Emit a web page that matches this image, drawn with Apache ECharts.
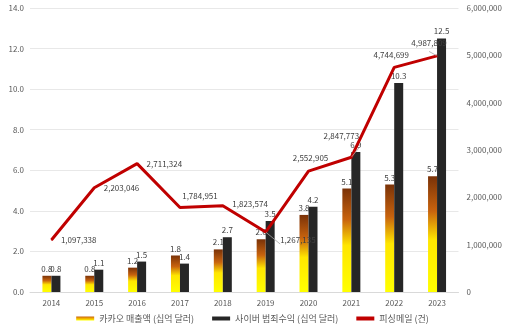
<!DOCTYPE html>
<html><head><meta charset="utf-8">
<script src="https://cdn.jsdelivr.net/npm/echarts@6/dist/echarts.min.js"></script>
<style>html,body{margin:0;padding:0;background:#fff}#c{width:505px;height:331px}</style>
</head><body><div id="c"></div>
<script>
const years = ['2014','2015','2016','2017','2018','2019','2020','2021','2022','2023'];
const kakao = [0.8,0.8,1.2,1.8,2.1,2.6,3.8,5.1,5.3,5.7];
const cyber = [0.8,1.1,1.5,1.4,2.7,3.5,4.2,6.9,10.3,12.5];
const phishing = [1097338,2203046,2711324,1784951,1823574,1267135,2552905,2847773,4744699,4987809];
const names = ['카카오 매출액 (십억 달러)','사이버 범죄수익 (십억 달러)','피싱메일 (건)'];

const lineLabelCfg = [
  {position:'right', offset:[4,0]},
  {position:'right', offset:[4,0]},
  {position:'right', offset:[4,0]},
  {position:'top', offset:[20,-2]},
  {position:'right', offset:[4,-2]},
  {position:'right', offset:[9,8], guide:true},
  {position:'top', offset:[2,-4]},
  {position:'top', offset:[-10,-12], guide:true},
  {position:'top', offset:[-3,-3]},
  {position:'top', offset:[-8,-3], guide:true}
];
const fmt = v => v.toLocaleString('en-US');
const grad = {type:'linear',x:0,y:0,x2:0,y2:1,colorStops:[
  {offset:0,color:'#7a3208'},{offset:0.3,color:'#c8630e'},{offset:0.55,color:'#ffe600'},{offset:1,color:'#ffff00'}]};
const gradLegend = {type:'linear',x:0,y:0,x2:0,y2:1,colorStops:[
  {offset:0,color:'#c8630e'},{offset:0.5,color:'#f0b000'},{offset:1,color:'#ffff00'}]};

const chart = echarts.init(document.getElementById('c'));
chart.setOption({
  animation:false,
  textStyle:{fontFamily:'"Noto Sans CJK KR","Noto Sans",sans-serif'},
  grid:{left:30,right:41,top:8,bottom:39},
  legend:{
    bottom:3, left:'center', itemGap:18, itemWidth:18, itemHeight:4, itemTextGap:3,
    textStyle:{fontSize:9,color:'#595959',fontFamily:'"Noto Sans CJK KR",sans-serif'},
    data:[
      {name:names[0], icon:'rect', itemStyle:{color:gradLegend}},
      {name:names[1], icon:'rect'},
      {name:names[2], icon:'rect', itemStyle:{color:'#c00000'}}
    ]
  },
  xAxis:{
    type:'category', data:years,
    axisLine:{lineStyle:{color:'#d9d9d9'}}, axisTick:{show:false},
    axisLabel:{fontSize:8,color:'#595959',margin:7}
  },
  yAxis:[
    {type:'value',min:0,max:14,interval:2,
     axisLabel:{fontSize:8,color:'#595959',formatter:v=>v.toFixed(1),margin:6},
     splitLine:{lineStyle:{color:'#e8e8e8'}}, axisLine:{show:false}},
    {type:'value',min:0,max:6000000,interval:1000000,
     axisLabel:{fontSize:8,color:'#595959',formatter:v=>fmt(v),margin:8},
     splitLine:{show:false}, axisLine:{show:false}}
  ],
  series:[
    {name:names[0], type:'bar', data:kakao, barWidth:9, barGap:'0%',
     itemStyle:{color:grad},
     label:{show:true,position:'top',fontSize:8,color:'#404040',distance:3}},
    {name:names[1], type:'bar', data:cyber, barWidth:9,
     itemStyle:{color:'#262626'},
     label:{show:true,position:'top',fontSize:8,color:'#404040',distance:3}},
    {name:names[2], type:'line', yAxisIndex:1, symbol:'circle', symbolSize:1, showSymbol:true,
     lineStyle:{color:'#c00000',width:3}, itemStyle:{color:'#c00000'},
     data: phishing.map((v,i)=>({value:v,
        label:{position:lineLabelCfg[i].position,offset:lineLabelCfg[i].offset},
        labelLine:{show:!!lineLabelCfg[i].guide}})),
     label:{show:true,fontSize:8,color:'#404040',formatter:p=>fmt(p.value)},
     labelLine:{show:false,lineStyle:{color:'#a6a6a6',width:0.8}},
     z:5
    }
  ]
});
</script></body></html>
